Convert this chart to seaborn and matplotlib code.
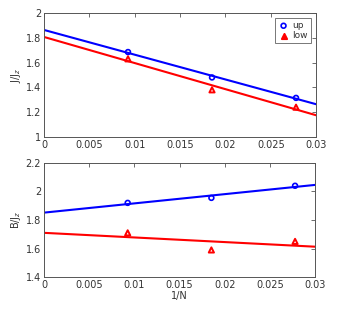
import numpy as np
import pandas as pd
import matplotlib
matplotlib.use("Agg")
import matplotlib.pyplot as plt
import seaborn as sns

# data
N = [108, 54, 36]
x_inv_n = [1/108, 1/54, 1/36]
j_up = [1.685, 1.48, 1.315]
j_low = [1.63, 1.38, 1.24]
b_up = [1.92, 1.955, 2.04]
b_low = [1.71, 1.59, 1.65]

sns.set_theme(style="white")
plt.rcParams['font.family'] = ['DejaVu Sans']
plt.rcParams['font.size'] = 7

fig = plt.figure(figsize=(3.45, 3.17), dpi=100)
ax1 = fig.add_axes([0.1275, 0.568, 0.789, 0.391])
ax2 = fig.add_axes([0.1275, 0.126, 0.786, 0.360])

grey = '#555555'
txt = '#333333'

def panel(ax, up, low, ylim, yticks, ylabel, legend=False):
    ax.set_xlim(0, 0.03)
    ax.set_ylim(*ylim)
    df_up = pd.DataFrame({'x': x_inv_n, 'y': up})
    df_low = pd.DataFrame({'x': x_inv_n, 'y': low})
    sns.regplot(data=df_up, x='x', y='y', ax=ax, ci=None, truncate=False,
                scatter=False, line_kws=dict(color='#0000ff', lw=1.5))
    sns.regplot(data=df_low, x='x', y='y', ax=ax, ci=None, truncate=False,
                scatter=False, line_kws=dict(color='#ff0000', lw=1.5))
    sns.scatterplot(data=df_up, x='x', y='y', ax=ax, marker='o', s=12,
                    facecolor='none', edgecolor='#0000ff', linewidth=1.2,
                    label='up' if legend else None, zorder=3)
    sns.scatterplot(data=df_low, x='x', y='y', ax=ax, marker='^', s=14,
                    facecolor='none', edgecolor='#ff0000', linewidth=1.4,
                    label='low' if legend else None, zorder=3)
    ax.set_xlim(0, 0.03)
    ax.set_ylim(*ylim)
    ax.set_yticks(yticks)
    ax.set_yticklabels([f"{t:g}" for t in yticks])
    xt = [0, 0.005, 0.01, 0.015, 0.02, 0.025, 0.03]
    ax.set_xticks(xt)
    ax.set_xticklabels([f"{t:g}" for t in xt])
    ax.tick_params(direction='in', length=3, width=0.6, colors=grey,
                   labelcolor=txt, top=True, right=True, labelsize=7, pad=2)
    for s in ax.spines.values():
        s.set_color(grey)
        s.set_linewidth(0.7)
    ax.set_ylabel(ylabel, fontsize=7, labelpad=2, color=txt)
    ax.set_xlabel('')

panel(ax1, j_up, j_low, (1, 2), [1, 1.2, 1.4, 1.6, 1.8, 2], r'J/J$_z$', legend=True)
panel(ax2, b_up, b_low, (1.4, 2.2), [1.4, 1.6, 1.8, 2, 2.2], r'B/J$_z$')
ax2.set_xlabel('1/N', fontsize=7, labelpad=1, color=txt)

leg = ax1.legend(loc='upper right', fontsize=6.5, frameon=True, fancybox=False,
                 edgecolor=grey, handletextpad=0.4, borderpad=0.3,
                 handlelength=1.2, labelspacing=0.1, borderaxespad=0.6,
                 labelcolor=txt)
leg.get_frame().set_linewidth(0.7)
handles = leg.legend_handles
handles[1].set_facecolor('#ff0000')

fig.savefig('out.png', dpi=100)
